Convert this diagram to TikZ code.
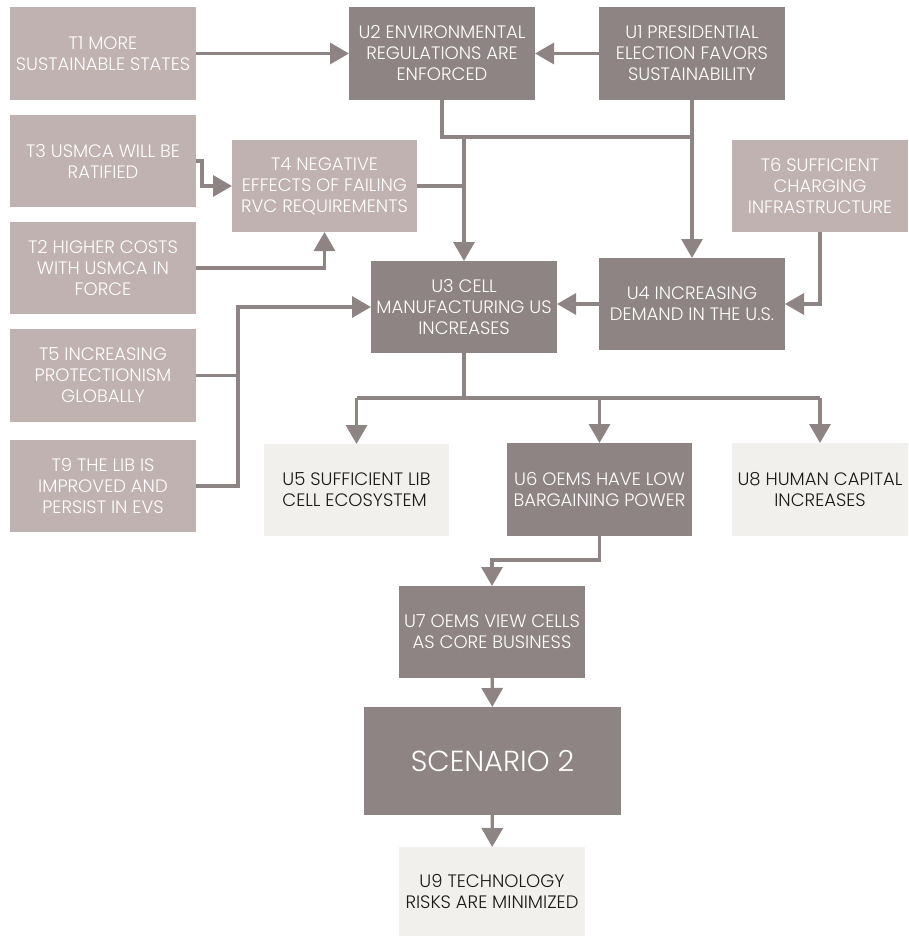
\documentclass[tikz,border=0pt]{standalone}
\usepackage{fontspec}
\newfontfamily\pop{Poppins Light}
\usetikzlibrary{arrows.meta}
\definecolor{darkbox}{HTML}{8E8483}
\definecolor{lightbox}{HTML}{C0B2B0}
\definecolor{palebox}{HTML}{F2F0EC}
\definecolor{linec}{HTML}{8E8483}
\definecolor{paletext}{HTML}{1A1A1A}
\tikzset{
  base/.style={inner sep=0pt, outer sep=0pt, align=center, font=\pop\fontsize{18}{21}\selectfont, anchor=center},
  dbox/.style={base, fill=darkbox, text=white},
  lbox/.style={base, fill=lightbox, text=white},
  pbox/.style={base, fill=palebox, text=paletext},
  conn/.style={draw=linec, line width=3.3pt},
  arr/.style={conn, -{Triangle[length=19pt,width=21pt]}},
}
\begin{document}
\begin{tikzpicture}[x=1pt,y=-1pt]
\useasboundingbox (0,0) rectangle (908,936);
% nodes
\node[lbox, minimum width=186pt, minimum height=93pt] (T1) at (103,53.5) {T1 MORE\\SUSTAINABLE STATES};
\node[dbox, minimum width=186pt, minimum height=93pt] (U2) at (442,53.5) {U2 ENVIRONMENTAL\\REGULATIONS ARE\\ENFORCED};
\node[dbox, minimum width=186pt, minimum height=93pt] (U1) at (692,53.5) {U1 PRESIDENTIAL\\ELECTION FAVORS\\SUSTAINABILITY};
\node[lbox, minimum width=186pt, minimum height=92pt] (T3) at (103,161) {T3 USMCA WILL BE\\RATIFIED};
\node[lbox, minimum width=185pt, minimum height=92pt] (T4) at (324.5,186) {T4 NEGATIVE\\EFFECTS OF FAILING\\RVC REQUIREMENTS};
\node[lbox, minimum width=176pt, minimum height=92pt] (T6) at (820,186) {T6 SUFFICIENT\\CHARGING\\INFRASTRUCTURE};
\node[lbox, minimum width=186pt, minimum height=92pt] (T2) at (103,268) {T2 HIGHER COSTS\\WITH USMCA IN\\FORCE};
\node[dbox, minimum width=186pt, minimum height=92pt] (U3) at (464,307) {U3 CELL\\MANUFACTURING US\\INCREASES};
\node[dbox, minimum width=186pt, minimum height=92pt] (U4) at (692,304) {U4 INCREASING\\DEMAND IN THE U.S.};
\node[lbox, minimum width=186pt, minimum height=93pt] (T5) at (103,375.5) {T5 INCREASING\\PROTECTIONISM\\GLOBALLY};
\node[lbox, minimum width=186pt, minimum height=92pt] (T9) at (103,486) {T9 THE LIB IS\\IMPROVED AND\\PERSIST IN EVS};
\node[pbox, minimum width=185pt, minimum height=92pt, align=left] (U5) at (356.5,490) {U5 SUFFICIENT LIB\\CELL ECOSYSTEM};
\node[dbox, minimum width=185pt, minimum height=93pt] (U6) at (599.5,489.5) {U6 OEMS HAVE LOW\\BARGAINING POWER};
\node[pbox, minimum width=176pt, minimum height=93pt] (U8) at (820,489.5) {U8 HUMAN CAPITAL\\INCREASES};
\node[dbox, minimum width=186pt, minimum height=92pt] (U7) at (492,632) {U7 OEMS VIEW CELLS\\AS CORE BUSINESS};
\node[dbox, minimum width=257pt, minimum height=108pt, font=\pop\fontsize{29}{33}\selectfont] (SC) at (492.5,761) {SCENARIO 2};
\node[pbox, minimum width=186pt, minimum height=89pt] (U9) at (492,891.5) {U9 TECHNOLOGY\\RISKS ARE MINIMIZED};
% helper coordinates
\coordinate (busA) at (0,137);
\coordinate (busB) at (0,398);
\coordinate (jx) at (238,0);
\coordinate (ky) at (0,560);
% connectors
\draw[arr] (T1) -- (U2);
\draw[arr] (U1) -- (U2);
\draw[conn] (U2.south) -- (U2.south |- busA) -- (U1.south |- busA) -- (U1.south);
\draw[arr] (U3.north |- busA) -- (U3.north);
\draw[arr] (U4.north |- busA) -- (U4.north);
\draw[conn] (T4.east) -- (T4.east -| U3.north);
\draw[arr] (T3.east) -- ++(6,0) |- (T4.west);
\draw[arr] (T2.east) -| (T4.south);
\draw[arr] (T6.south) |- (U4.east);
\draw[arr] (U4.west) -- (U3.east |- U4.west);
\draw[conn] (T5.east) -- (jx |- T5.east);
\draw[arr] (T9.east) -| (jx |- U3.west) -- (U3.west);
\draw[conn] (U3.south) -- (U3.south |- busB);
\draw[conn] (U5.north |- busB) -- (U8.north |- busB);
\draw[arr] (U5.north |- busB) -- (U5.north);
\draw[arr] (U6.north |- busB) -- (U6.north);
\draw[arr] (U8.north |- busB) -- (U8.north);
\draw[arr] (U6.south) |- (ky -| U7.north) -- (U7.north);
\draw[arr] (U7) -- (SC);
\draw[arr] (SC) -- (U9);
\end{tikzpicture}
\end{document}
